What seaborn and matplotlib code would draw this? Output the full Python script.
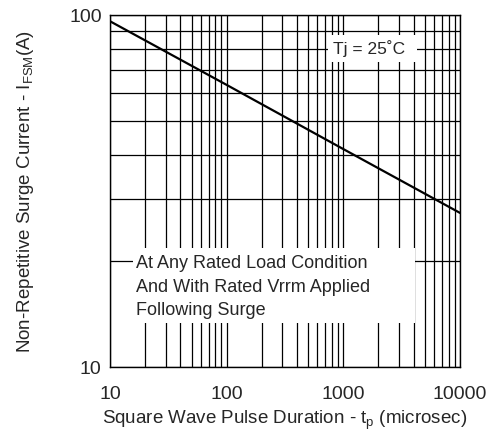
import matplotlib
matplotlib.use("Agg")
import matplotlib.pyplot as plt
import matplotlib.ticker as mticker
import seaborn as sns
import pandas as pd
from matplotlib.patches import Rectangle

# Data
pulse_us = [10, 100, 1000, 10000]
surge_a = [96.0, 63.3, 41.6, 27.4]
x_ticks = [10, 100, 1000, 10000]
x_ticklabels = ["10", "100", "1000", "10000"]
y_ticks = [10, 100]
y_ticklabels = ["10", "100"]

sns.set_style("white")
plt.rcParams['font.family'] = ['Liberation Sans', 'DejaVu Sans']
plt.rcParams['mathtext.fontset'] = 'custom'
plt.rcParams['mathtext.rm'] = 'Liberation Sans'
plt.rcParams['mathtext.it'] = 'Liberation Sans'

fig = plt.figure(figsize=(4.89, 4.34), dpi=100)
ax = fig.add_axes([110/489, 1-367/434, 350/489, 352/434])

df = pd.DataFrame({"t": pulse_us, "i": surge_a})
ax.set_xscale("log")
ax.set_yscale("log")
ax.set_xlim(10, 10000)
ax.set_ylim(10, 100)

# grid
ax.grid(True, which="minor", color="black", linewidth=0.9)
ax.grid(True, which="major", color="black", linewidth=0.9)
ax.set_axisbelow(True)

sns.lineplot(data=df, x="t", y="i", ax=ax, color="black", linewidth=1.6, zorder=5)

# white label boxes
ax.add_patch(Rectangle((0.623, 0.866), 0.254, 0.077, transform=ax.transAxes,
                       facecolor="white", edgecolor="none", zorder=3))
ax.add_patch(Rectangle((0.066, 0.125), 0.805, 0.213, transform=ax.transAxes,
                       facecolor="white", edgecolor="none", zorder=3))
ax.text(0.637, 0.904, "Tj = 25˚C", transform=ax.transAxes, fontsize=12.5,
        va="center", ha="left", zorder=4)
ax.text(0.075, 0.227, "At Any Rated Load Condition\nAnd With Rated Vrrm Applied\nFollowing Surge",
        transform=ax.transAxes, fontsize=13, va="center", ha="left",
        linespacing=1.5, zorder=4)

ax.set_xticks(x_ticks)
ax.set_xticklabels(x_ticklabels)
ax.set_yticks(y_ticks)
ax.set_yticklabels(y_ticklabels)
ax.xaxis.set_minor_formatter(mticker.NullFormatter())
ax.yaxis.set_minor_formatter(mticker.NullFormatter())
ax.tick_params(axis="both", which="both", length=0, labelsize=14)
ax.tick_params(axis="x", pad=14)
ax.tick_params(axis="y", pad=6)

ax.set_xlabel("Square Wave Pulse Duration - t$_{\\mathrm{p}}$ (microsec)", fontsize=13.5, labelpad=4)
ax.set_ylabel("Non-Repetitive Surge Current - I$_{\\mathrm{FSM}}$(A)", fontsize=13.5, labelpad=24)

for s in ax.spines.values():
    s.set_color("black")
    s.set_linewidth(1.0)
    s.set_visible(True)

fig.savefig("out.png", dpi=100)
